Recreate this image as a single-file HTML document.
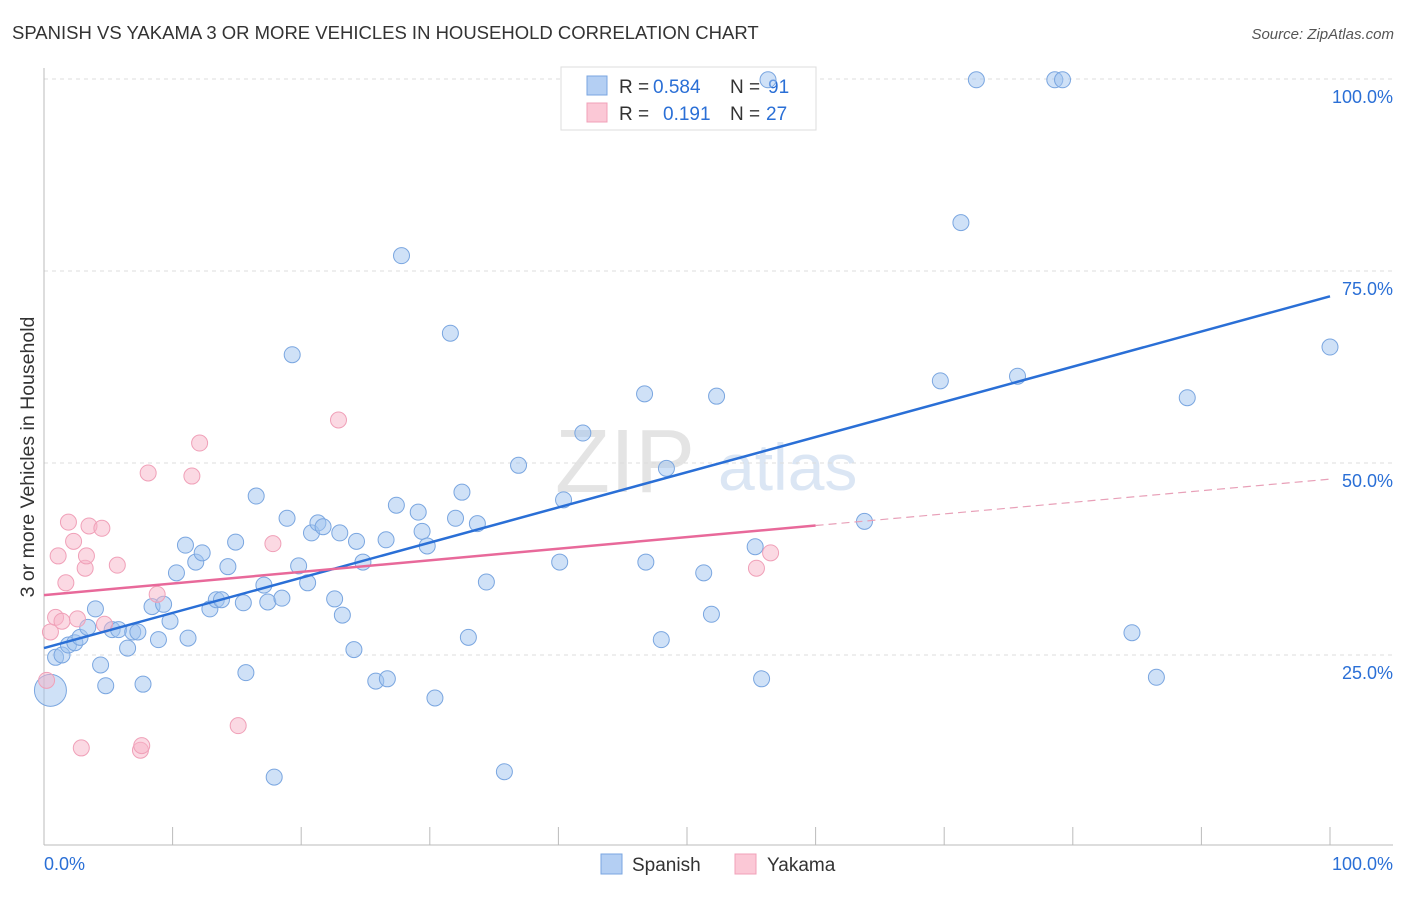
<!DOCTYPE html>
<html><head><meta charset="utf-8">
<style>
body{margin:0;background:#fff;font-family:"Liberation Sans",sans-serif;}
svg text{font-family:"Liberation Sans",sans-serif;}
</style></head>
<body>
<svg id="chart" width="1406" height="892" xmlns="http://www.w3.org/2000/svg">
<text x="12" y="39" font-size="18.5" fill="#333">SPANISH VS YAKAMA 3 OR MORE VEHICLES IN HOUSEHOLD CORRELATION CHART</text>
<text x="1394" y="39" font-size="15" fill="#555" text-anchor="end" font-style="italic">Source: ZipAtlas.com</text>
<text transform="translate(34,457) rotate(-90)" font-size="19.5" fill="#333" text-anchor="middle">3 or more Vehicles in Household</text>
<text x="555" y="492" font-size="90" fill="#e4e4e4" font-family="Liberation Serif">ZIP</text>
<text x="718" y="490" font-size="66" fill="#dbe6f4">atlas</text>
<g id="grid"></g><g id="axes"></g>
<g>
<rect x="561" y="67" width="255" height="63" fill="#fff" stroke="#ddd"/>
<rect x="587" y="76" width="20" height="19" fill="#b4cff3" stroke="#7aa6e0"/>
<text x="619" y="93" font-size="19" fill="#333">R = </text><text x="653" y="93" font-size="19" fill="#2a6fd6">0.584</text>
<text x="730" y="93" font-size="19" fill="#333">N = </text><text x="768" y="93" font-size="19" fill="#2a6fd6">91</text>
<rect x="587" y="103" width="20" height="19" fill="#fbc8d6" stroke="#f0a0b8"/>
<text x="619" y="120" font-size="19" fill="#333">R = </text><text x="663" y="120" font-size="19" fill="#2a6fd6">0.191</text>
<text x="730" y="120" font-size="19" fill="#333">N = </text><text x="766" y="120" font-size="19" fill="#2a6fd6">27</text>
</g>
<g id="pts"></g><g id="lines"></g>
<g>
<rect x="601" y="854" width="21" height="20" fill="#b4cff3" stroke="#7aa6e0"/>
<text x="632" y="871" font-size="19" fill="#333">Spanish</text>
<rect x="735" y="854" width="21" height="20" fill="#fbc8d6" stroke="#f0a0b8"/>
<text x="767" y="871" font-size="19" fill="#333">Yakama</text>
</g>
</svg>
<script>
const blueX=[0.5,0.9,1.4,1.9,2.4,2.8,4.0,3.4,4.4,4.8,5.3,5.8,6.5,6.9,7.3,7.7,8.4,8.9,9.3,9.8,10.3,11.0,11.2,11.8,12.3,12.9,13.4,13.8,14.3,14.9,15.5,15.7,16.5,17.1,17.4,17.9,18.5,18.9,19.3,19.8,20.5,20.8,21.3,21.7,22.6,23.0,23.2,24.1,24.3,24.8,25.8,26.7,26.6,27.4,27.8,29.1,29.4,29.8,30.4,31.6,32.0,32.5,33.0,33.7,34.4,35.8,36.9,40.1,40.4,41.9,46.7,46.8,48.0,48.4,51.3,51.9,52.3,55.3,55.8,63.8,69.7,71.3,72.5,75.7,78.6,79.2,84.6,86.5,88.9,100,56.3];
const blueY=[20.4,24.7,25.0,26.3,26.6,27.3,31.0,28.6,23.7,21.0,28.3,28.3,25.9,28.0,28.0,21.2,31.3,27.0,31.6,29.4,35.7,39.3,27.2,37.1,38.3,31.0,32.2,32.2,36.5,39.7,31.8,22.7,45.7,34.1,31.9,9.1,32.4,42.8,64.1,36.6,34.4,40.9,42.2,41.7,32.3,40.9,30.2,25.7,39.8,37.1,21.6,21.9,40.0,44.5,77.0,43.6,41.1,39.2,19.4,66.9,42.8,46.2,27.3,42.1,34.5,9.8,49.7,37.1,45.2,53.9,59.0,37.1,27.0,49.3,35.7,30.3,58.7,39.1,21.9,42.4,60.7,81.3,99.9,61.3,99.9,99.9,27.9,22.1,58.5,65.1,99.9];
const pinkX=[0.2,0.5,0.9,1.1,1.4,1.7,1.9,2.3,2.6,2.9,3.2,3.3,3.5,4.5,4.7,5.7,7.5,7.6,8.1,8.8,11.5,12.1,15.1,17.8,22.9,55.4,56.5];
const pinkY=[21.7,28.0,29.9,37.9,29.4,34.4,42.3,39.8,29.7,12.9,36.3,37.9,41.8,41.5,29.0,36.7,12.6,13.2,48.7,32.9,48.3,52.6,15.8,39.5,55.6,36.3,38.3];
const blueTrend=[25.9,71.7];
const pinkTrend=[32.8,47.9];
const yTicks=[25,50,75,100];
const yTickLabels=["25.0%","50.0%","75.0%","100.0%"];
const xTicks=[0,10,20,30,40,50,60,70,80,90,100];
const NS="http://www.w3.org/2000/svg";
const sx=v=>44+v*12.86, sy=v=>847-v*7.68;
function mk(tag,attrs,parent){const e=document.createElementNS(NS,tag);for(const k in attrs)e.setAttribute(k,attrs[k]);document.getElementById(parent).appendChild(e);return e;}
yTicks.forEach((t,i)=>{
 const g=mk('line',{x1:44,x2:1393,y1:sy(t),y2:sy(t),stroke:'#ddd','stroke-dasharray':'4,4'},'grid');
 
 
 const l=mk('text',{x:1393,y:sy(t)+24,'font-size':18,fill:'#2a6fd6','text-anchor':'end'},'grid');
 l.textContent=yTickLabels[i];
 
 
});
const ax=mk('line',{x1:44,x2:44,y1:68,y2:845,stroke:'#bbb'},'axes');


const bx=mk('line',{x1:44,x2:1393,y1:845,y2:845,stroke:'#bbb'},'axes');


xTicks.forEach(t=>{
 const k=mk('line',{x1:sx(t),x2:sx(t),y1:827,y2:845,stroke:'#bbb'},'axes');
 
 
});
const x0=mk('text',{x:44,y:870,'font-size':18,fill:'#2a6fd6'},'axes');x0.textContent='0.0%';


const x1=mk('text',{x:1393,y:870,'font-size':18,fill:'#2a6fd6','text-anchor':'end'},'axes');x1.textContent='100.0%';


blueX.forEach((v,i)=>{
 const c=mk('circle',{cx:sx(v),cy:sy(blueY[i]),r:i===0?16:8,fill:'rgba(160,196,240,0.5)',stroke:'#7aa6e0','stroke-width':1},'pts');
 
 
});
pinkX.forEach((v,i)=>{
 const c=mk('circle',{cx:sx(v),cy:sy(pinkY[i]),r:8,fill:'rgba(248,180,200,0.5)',stroke:'#f0a0b8','stroke-width':1},'pts');
 
 
});
const bl=mk('line',{x1:sx(0),y1:sy(blueTrend[0]),x2:sx(100),y2:sy(blueTrend[1]),stroke:'#2a6fd6','stroke-width':2.5},'lines');


const pm=v=>pinkTrend[0]+(pinkTrend[1]-pinkTrend[0])*v/100;
const pl=mk('line',{x1:sx(0),y1:sy(pm(0)),x2:sx(60),y2:sy(pm(60)),stroke:'#e8699a','stroke-width':2.5},'lines');


const pd=mk('line',{x1:sx(60),y1:sy(pm(60)),x2:sx(100),y2:sy(pm(100)),stroke:'#e8a0b8','stroke-width':1.2,'stroke-dasharray':'8,5'},'lines');


</script>
</body></html>
